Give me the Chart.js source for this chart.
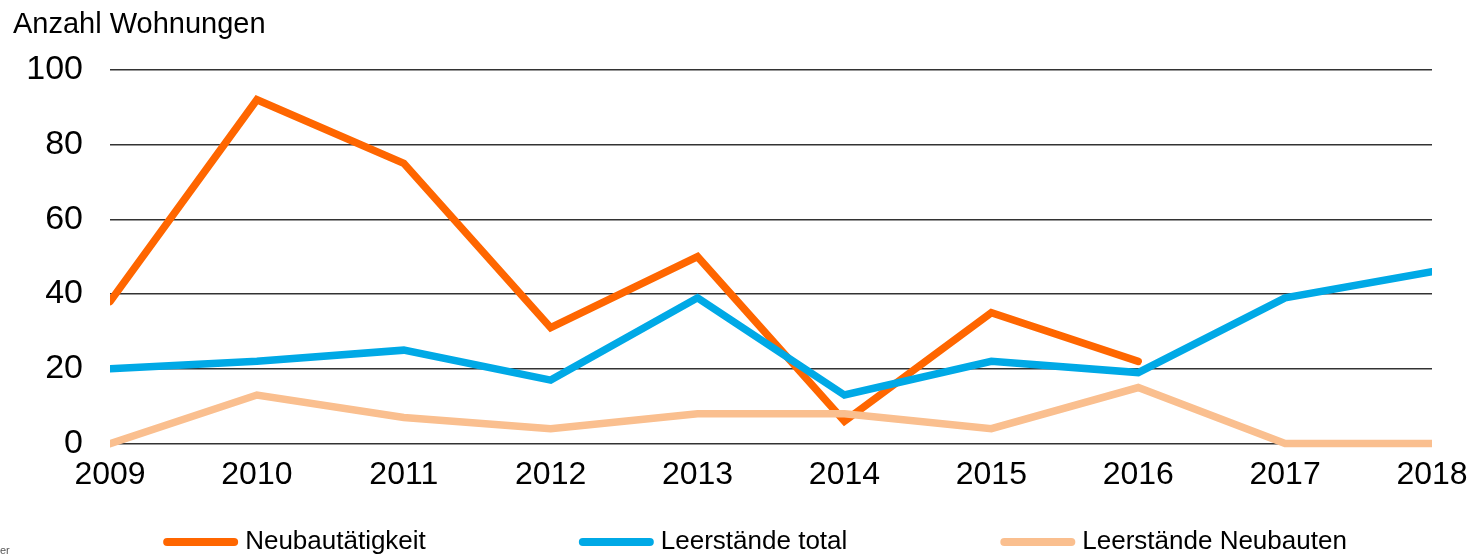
<!DOCTYPE html>
<html>
<head>
<meta charset="utf-8">
<script src="https://cdn.jsdelivr.net/npm/chart.js@4"></script>
<style>
  html, body { margin: 0; padding: 0; background: #fff; }
  #wrap { width: 1474px; height: 555px; position: relative; }
</style>
</head>
<body>
<div id="wrap"><canvas id="chart"></canvas></div>
<script>
// Werte
const jahre = ['2009', '2010', '2011', '2012', '2013', '2014', '2015', '2016', '2017', '2018'];
const neubautaetigkeit = [38, 92, 75, 31, 50, 6, 35, 22, null, null];
const leerstaendeTotal = [20, 22, 25, 17, 39, 13, 22, 19, 39, 46];
const leerstaendeNeubauten = [0, 13, 7, 4, 8, 8, 4, 15, 0, 0];
const yTicks = [0, 20, 40, 60, 80, 100];

const SANS = '"Liberation Sans", Arial, sans-serif';

// eigene Legende unten (Linie + Text), Abstände wie im Original
const legendeUnten = {
  id: 'legendeUnten',
  afterDraw(chart) {
    const ctx = chart.ctx;
    const ds = chart.data.datasets;
    const lineW = 75, gapText = 7, gapItem = 153;
    ctx.save();
    ctx.font = '26px ' + SANS;
    const widths = ds.map(d => lineW + gapText + ctx.measureText(d.label).width);
    const total = widths.reduce((a, b) => a + b, 0) + gapItem * (ds.length - 1);
    let x = chart.width / 2 + 18 - total / 2;
    const y = 542;
    ds.forEach((d, i) => {
      ctx.strokeStyle = d.borderColor;
      ctx.lineWidth = 8;
      ctx.lineCap = 'round';
      ctx.beginPath();
      ctx.moveTo(x + 4, y);
      ctx.lineTo(x + lineW - 4, y);
      ctx.stroke();
      ctx.fillStyle = '#000';
      ctx.textBaseline = 'middle';
      ctx.fillText(d.label, x + lineW + gapText, y);
      x += widths[i] + gapItem;
    });
    // abgeschnittene Quellenangabe unten links
    ctx.font = '11px ' + SANS;
    ctx.fillStyle = '#555';
    ctx.fillText('er', 0, 551);
    ctx.restore();
  }
};

new Chart(document.getElementById('chart'), {
  type: 'line',
  data: {
    labels: jahre,
    datasets: [
      {
        label: 'Neubautätigkeit',
        data: neubautaetigkeit,
        borderColor: '#FF6600',
        backgroundColor: '#FF6600',
        order: 3
      },
      {
        label: 'Leerstände total',
        data: leerstaendeTotal,
        borderColor: '#00A9E6',
        backgroundColor: '#00A9E6',
        order: 2
      },
      {
        label: 'Leerstände Neubauten',
        data: leerstaendeNeubauten,
        borderColor: '#FABF8F',
        backgroundColor: '#FABF8F',
        order: 1
      }
    ]
  },
  options: {
    responsive: true,
    maintainAspectRatio: false,
    animation: false,
    datasets: {
      line: {
        borderWidth: 7.5,
        pointRadius: 0,
        tension: 0,
        fill: false,
        borderCapStyle: 'round',
        borderJoinStyle: 'miter',
        spanGaps: false,
        clip: { left: 0, right: 0, top: 10, bottom: 10 }
      }
    },
    layout: { padding: { left: 13, right: 42, top: 0, bottom: 49 } },
    plugins: {
      legend: { display: false },
      tooltip: { enabled: false },
      title: {
        display: true,
        text: 'Anzahl Wohnungen',
        align: 'start',
        color: '#000',
        font: { family: SANS, size: 29, weight: 'normal' },
        padding: { top: 8, bottom: 27 }
      }
    },
    scales: {
      x: {
        afterFit(scale) { scale.paddingLeft = 0; scale.paddingRight = 0; },
        grid: { display: false, drawTicks: false },
        border: { display: false },
        ticks: {
          color: '#000',
          font: { family: SANS, size: 32 },
          padding: 12,
          maxRotation: 0,
          autoSkip: false
        }
      },
      y: {
        min: 0,
        max: 100,
        afterFit(scale) { scale.width = 97; },
        afterBuildTicks(scale) { scale.ticks = yTicks.map(v => ({ value: v })); },
        grid: { color: '#333', lineWidth: 1.6, drawTicks: false },
        border: { display: false },
        ticks: {
          color: '#000',
          font: { family: SANS, size: 34 },
          padding: 27
        }
      }
    }
  },
  plugins: [legendeUnten]
});
</script>
</body>
</html>
